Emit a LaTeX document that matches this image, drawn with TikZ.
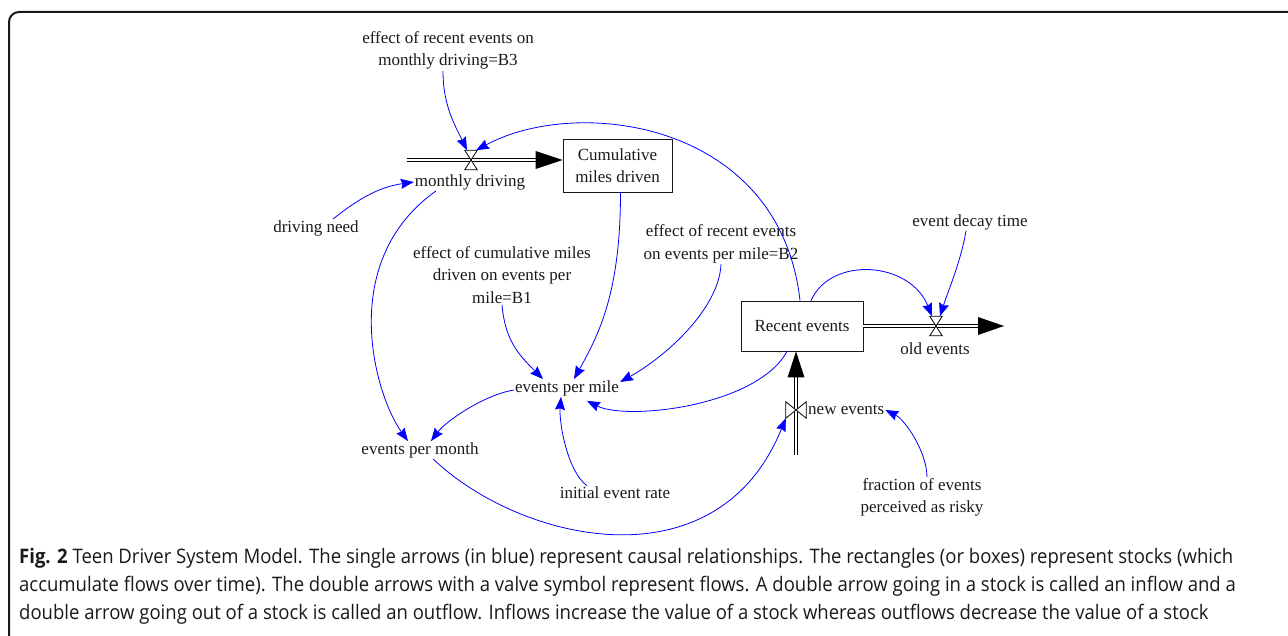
\documentclass[tikz,border=0pt]{standalone}
\usepackage{fontspec}
\setmainfont{Liberation Serif}
\newfontfamily\capfont[FakeStretch=0.926]{Open Sans}
\usetikzlibrary{arrows.meta}
\begin{document}
\begin{tikzpicture}[x=1pt,y=1pt,
  lbl/.style={font=\fontsize{17}{22.5}\selectfont, inner sep=1pt, align=center, text=black!90},
  stock/.style={lbl, draw=black!90, line width=0.8pt, inner sep=0pt},
  valve/.style={draw, fill=white, line width=0.8pt},
  vslot/.style={inner sep=0pt, minimum width=12pt, minimum height=19pt},
  hslot/.style={inner sep=0pt, minimum width=20pt, minimum height=16pt},
  pipe/.style={draw, line width=0.9pt, double=white, double distance=2.2pt},
  causal/.style={draw=blue, line width=0.8pt, -{Stealth[length=13pt,width=10pt,inset=1.5pt]}},
  caption/.style={anchor=base west, inner sep=0pt, font=\capfont\fontsize{20}{28}\selectfont, text=black!90}
]
\useasboundingbox (0,0) rectangle (1288,-636);
\draw[line width=2pt, color=black!90] (1288,-12) -- (19,-12) arc[start angle=90, end angle=180, radius=10] -- (9,-636);

% nodes
\node[lbl] (b3) at (448,-50.5) {effect of recent events on\\monthly driving=B3};
\node[vslot] (vmd) at (471,-160) {};
\node[lbl] (md) at (470,-182) {monthly driving};
\node[stock, minimum width=109pt, minimum height=53pt] (cum) at (617.5,-165.5) {Cumulative\\miles driven};
\coordinate (mdsrc) at (407,-160);
\node[lbl] (need) at (316,-228) {driving need};
\node[stock, minimum width=122pt, minimum height=50pt] (rec) at (802,-326) {Recent events};
\node[vslot] (vold) at (936,-326) {};
\node[lbl] (old) at (935,-349) {old events};
\coordinate (oldsnk) at (1004,-326);
\node[lbl] (decay) at (970,-222) {event decay time};
\node[hslot] (vnew) at (796,-410) {};
\node[lbl, anchor=west] (new) at (807,-410) {new events};
\coordinate (newsrc) at (796,-455);
\node[lbl] (frac) at (922,-497.5) {fraction of events\\perceived as risky};
\node[lbl] (epm) at (567,-388) {events per mile};
\node[lbl] (epmo) at (420,-450) {events per month};
\node[lbl] (init) at (615,-493) {initial event rate};
\node[lbl] (b1) at (502,-275) {effect of cumulative miles\\driven on events per\\mile=B1};
\node[lbl] (b2) at (721,-244) {effect of recent events\\on events per mile=B2};

% flows
\draw[pipe] (mdsrc) -- ([xshift=-25pt]mdsrc -| cum.west);
\fill (mdsrc -| cum.west) -- ++(-27,9) -- ++(0,-18) -- cycle;
\draw[valve] (vmd.north west) -- (vmd.north east) -- (vmd.south west) -- (vmd.south east) -- cycle;

\draw[pipe] (rec.east) -- ([xshift=-24pt]oldsnk);
\fill (oldsnk) -- ++(-26,9) -- ++(0,-18) -- cycle;
\draw[valve] (vold.north west) -- (vold.north east) -- (vold.south west) -- (vold.south east) -- cycle;

\draw[pipe] (newsrc) -- ([yshift=-24pt]newsrc |- rec.south);
\fill (newsrc |- rec.south) -- ++(-8.5,-26) -- ++(17,0) -- cycle;
\draw[valve] (vnew.north west) -- (vnew.south west) -- (vnew.north east) -- (vnew.south east) -- cycle;

% causal links
\draw[causal] ([xshift=-5pt]b3.south) .. controls +(0,-35) and +(-12,25) .. ([xshift=-4pt]vmd.north);
\draw[causal] ([xshift=-2pt]rec.north) .. controls +(-20,179) and +(102,55) .. ([xshift=5pt]vmd.north);
\draw[causal] ([xshift=17pt]need.north) .. controls +(25,20) and +(-35,-5) .. (md.west);
\draw[causal] ([xshift=3pt]cum.south) .. controls +(0,-100) and +(25,45) .. ([xshift=7pt]epm.north);
\draw[causal] (b1.south) .. controls +(3,-35) and +(-25,25) .. ([xshift=-24pt]epm.north);
\draw[causal] (b2.south) .. controls +(-2,-45) and +(45,25) .. ([yshift=6pt]epm.east);
\draw[causal] ([xshift=-15pt]rec.south) .. controls +(-30,-55) and +(40,-20) .. ([xshift=20pt,yshift=-4pt]epm.south);
\draw[causal] ([yshift=-2pt]epm.west) .. controls +(-30,-5) and +(15,20) .. ([xshift=11pt]epmo.north);
\draw[causal] ([xshift=-34pt]md.south) .. controls +(-100,-71) and +(-33,46) .. ([xshift=-12pt]epmo.north);
\draw[causal] ([xshift=-28pt]init.north) .. controls +(-20,15) and +(-2,-25) .. ([xshift=-6pt]epm.south);
\draw[causal] ([xshift=13pt]epmo.south) .. controls +(87,-83) and +(-69,-170) .. (vnew.south west);
\draw[causal] ([xshift=5pt]frac.north) .. controls +(0,25) and +(20,-10) .. (new.east);
\draw[causal] ([xshift=9pt]rec.north) .. controls +(20,45) and +(-22,55) .. ([xshift=-4pt]vold.north);
\draw[causal] ([xshift=-4pt]decay.south) .. controls +(-5,-30) and +(8,25) .. ([xshift=4pt]vold.north);

% caption
\node[caption] (cap1) at (19,-563) {\textbf{Fig. 2} Teen Driver System Model. The single arrows (in blue) represent causal relationships. The rectangles (or boxes) represent stocks (which};
\node[caption] (cap2) at (19,-591) {accumulate flows over time). The double arrows with a valve symbol represent flows. A double arrow going in a stock is called an inflow and a};
\node[caption] (cap3) at (19,-619) {double arrow going out of a stock is called an outflow. Inflows increase the value of a stock whereas outflows decrease the value of a stock};
\end{tikzpicture}
\end{document}
